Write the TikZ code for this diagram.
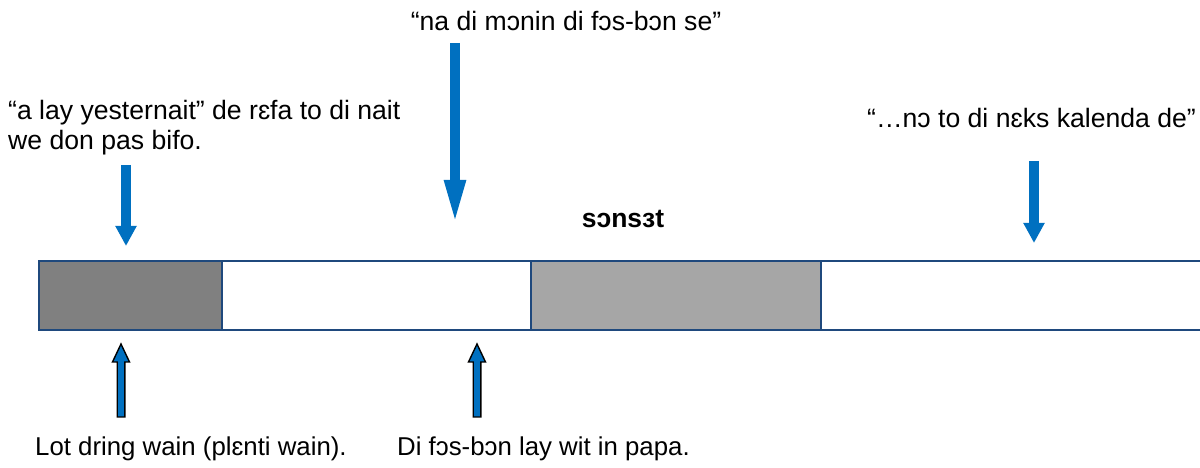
\documentclass[tikz,border=0pt]{standalone}
\usepackage{fontspec}
\setmainfont{Liberation Sans}
\usetikzlibrary{arrows.meta,calc}
\definecolor{barline}{RGB}{31,73,125}
\definecolor{arrowblue}{RGB}{0,112,192}
\definecolor{darkfill}{RGB}{128,128,128}
\definecolor{lightfill}{RGB}{166,166,166}
\tikzset{
  seg/.style={draw=barline, line width=2bp, anchor=north west, inner sep=0pt, minimum height=69bp},
  lbl/.style={inner sep=0pt, font=\fontsize{26.6bp}{30bp}\selectfont},
  lblsmall/.style={inner sep=0pt, font=\fontsize{25.8bp}{30bp}\selectfont},
  downarrow/.style={draw=arrowblue, line width=9.5bp, -{Triangle[width=20bp,length=20bp]}, shorten >=0pt},
  longdown/.style={draw=arrowblue, line width=10bp, -{Triangle[width=19bp,length=46bp]}},
  uparrow/.style={draw=black, line width=1.4bp, fill=arrowblue, line join=miter}
}
\begin{document}
\begin{tikzpicture}[x=1bp,y=-1bp]
\useasboundingbox (0,0) rectangle (1200,468);
% bar segments
\node[seg, fill=darkfill, minimum width=183bp] (s1) at (38,260) {};
\node[seg, fill=white, minimum width=309bp] (s2) at (221,260) {};
\node[seg, fill=lightfill, minimum width=290bp] (s3) at (530,260) {};
\node[seg, fill=white, minimum width=390bp] (s4) at (820,260) {};
% texts
\node[lbl, anchor=base west, align=left] (t1) at (8,150) {“a lay yesternait” de rɛfa to di nait\\we don pas bifo.};
\node[lbl, anchor=base] (t2) at (566,31) {“na di mɔnin di fɔs-bɔn se”};
\node[lbl, anchor=base east] (t3) at (1196,128) {“…nɔ to di nɛks kalenda de”};
\node[inner sep=0pt, anchor=base, font=\fontsize{26.5bp}{30bp}\selectfont\bfseries] (t4) at (623,228) {sɔnsɜt};
\node[lblsmall, anchor=base west] (t5) at (35,456) {Lot dring wain (plɛnti wain).};
\node[lblsmall, anchor=base west] (t6) at (397,456) {Di fɔs-bɔn lay wit in papa.};
% down arrows
\coordinate (d1s) at (126,165); \coordinate (d1e) at (126,246);
\coordinate (d2s) at (455,43);  \coordinate (d2e) at (455,226);
\coordinate (d3s) at (1034,161); \coordinate (d3e) at (1034,243);
\draw[downarrow] (d1s) -- (d1e);
\draw[longdown] (d2s) -- (d2e);
\draw[downarrow] (d3s) -- (d3e);
% up arrows (outlined block arrows)
\coordinate (u1) at (121,417);
\coordinate (u2) at (477,417);
\foreach \u in {u1,u2}{
  \draw[uparrow] ($(\u)+(-3.8,0)$) -- ($(\u)+(-3.8,-55)$) -- ($(\u)+(-8.5,-55)$) -- ($(\u)+(0,-73)$) -- ($(\u)+(8.5,-55)$) -- ($(\u)+(3.8,-55)$) -- ($(\u)+(3.8,0)$) -- cycle;
}
\end{tikzpicture}
\end{document}
